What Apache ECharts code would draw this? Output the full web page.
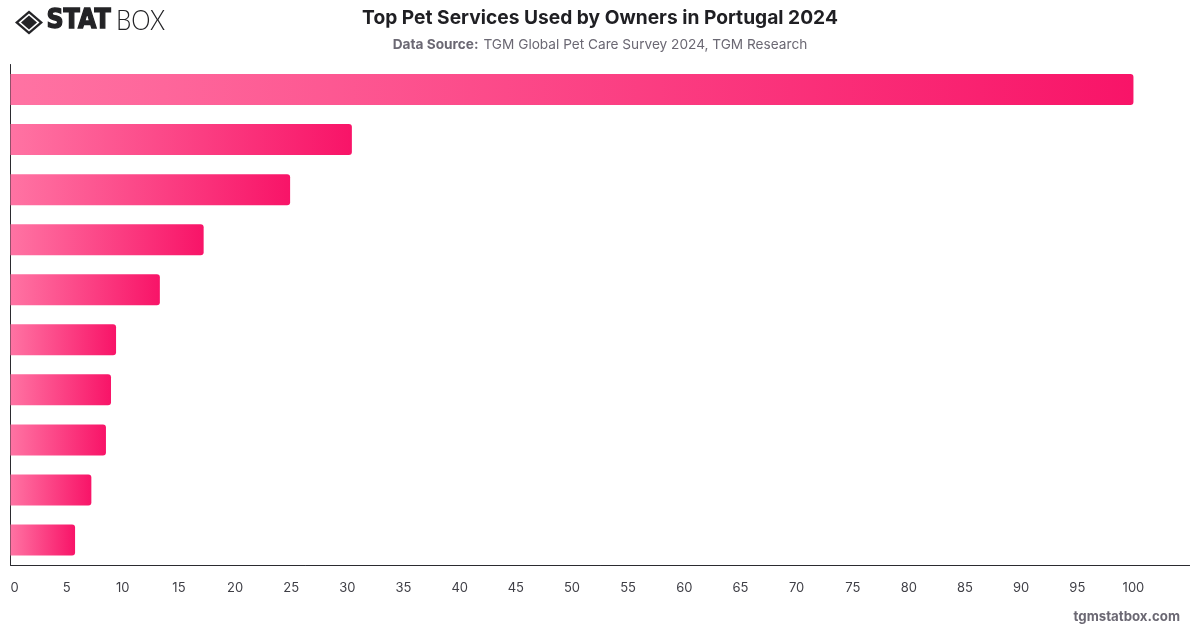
<!DOCTYPE html>
<html>
<head>
<meta charset="utf-8">
<style>html,body{margin:0;padding:0;background:#fff}#chart{width:1200px;height:628px}</style>
<script src="https://cdn.jsdelivr.net/npm/echarts@6/dist/echarts.min.js"></script>
</head>
<body>
<div id="chart"></div>
<script>
// Service ranks, top to bottom; the chart carries no category labels.
const categories = ['#1', '#2', '#3', '#4', '#5', '#6', '#7', '#8', '#9', '#10'];
const usageShare = [100, 30.4, 24.9, 17.2, 13.3, 9.4, 8.95, 8.5, 7.2, 5.75];
const axisMin = 0;
const axisMax = 105;
const axisStep = 5;

const titleText = 'Top Pet Services Used by Owners in Portugal 2024';
const sourceLead = 'Data Source:';
const sourceText = 'TGM Global Pet Care Survey 2024, TGM Research';
const siteText = 'tgmstatbox.com';

const FONT = 'Inter, "Noto Sans", sans-serif';
const chart = echarts.init(document.getElementById('chart'), null, {renderer: 'canvas'});

chart.setOption({
  animation: false,
  backgroundColor: '#ffffff',
  title: [
    {
      text: titleText, left: 595, top: 2, textAlign: 'center',
      textStyle: {fontFamily: FONT, fontSize: 19.2, fontWeight: 700, color: '#1f1f23', lineHeight: 22}
    },
    {
      text: '{b|' + sourceLead + '} {r|' + sourceText + '}', left: 595, top: 31, textAlign: 'center',
      textStyle: {
        rich: {
          b: {fontFamily: FONT, fontSize: 13.65, fontWeight: 700, color: '#6b6873'},
          r: {fontFamily: FONT, fontSize: 13.65, fontWeight: 400, color: '#6b6873'}
        }
      }
    },
    {
      text: siteText, right: 15, top: 606,
      textStyle: {fontFamily: FONT, fontSize: 13.25, fontWeight: 700, color: '#6b6873'}
    }
  ],
  grid: {left: 10.5, right: 10.4, top: 64.5, bottom: 63, containLabel: false},
  xAxis: {
    type: 'value', min: axisMin, max: axisMax, interval: axisStep,
    splitLine: {show: false},
    axisTick: {show: false},
    axisLine: {show: true, lineStyle: {color: '#2b2b30', width: 1}},
    axisLabel: {
      margin: 17, fontFamily: FONT, fontSize: 13, color: '#3f3f46',
      showMaxLabel: false, alignMinLabel: 'left'
    }
  },
  yAxis: {
    type: 'category', inverse: true, data: categories,
    axisTick: {show: false},
    axisLabel: {show: false},
    axisLine: {show: true, onZero: false, lineStyle: {color: '#2b2b30', width: 1}}
  },
  series: [{
    type: 'bar',
    data: usageShare,
    barWidth: 31,
    itemStyle: {
      borderRadius: [0, 3, 3, 0],
      color: new echarts.graphic.LinearGradient(0, 0, 1, 0, [
        {offset: 0, color: '#ff73a3'},
        {offset: 1, color: '#f81468'}
      ])
    }
  }],
  graphic: [
    // Logo mark: outer diamond frame with a solid centre.
    {type: 'polygon', shape: {points: [[29, 10.5], [43, 22.5], [29, 34.5], [15, 22.5]]}, style: {fill: '#232326'}},
    {type: 'polygon', shape: {points: [[29, 13.5], [39.5, 22.5], [29, 31.5], [18.5, 22.5]]}, style: {fill: '#ffffff'}},
    {type: 'polygon', shape: {points: [[29, 15.5], [37, 22.5], [29, 29.5], [21, 22.5]]}, style: {fill: '#232326'}},
    {type: 'text', x: 46.5, y: 7, scaleX: 0.88, style: {text: 'STAT', fontFamily: '"DejaVu Sans", sans-serif', fontWeight: 700, fontSize: 27, fill: '#232326', stroke: '#232326', lineWidth: 1.4}},
    {type: 'text', x: 116, y: 8, scaleX: 0.9, style: {text: 'BOX', fontFamily: 'Lato, sans-serif', fontWeight: 300, fontSize: 27, fill: '#232326'}}
  ]
});
</script>
</body>
</html>
